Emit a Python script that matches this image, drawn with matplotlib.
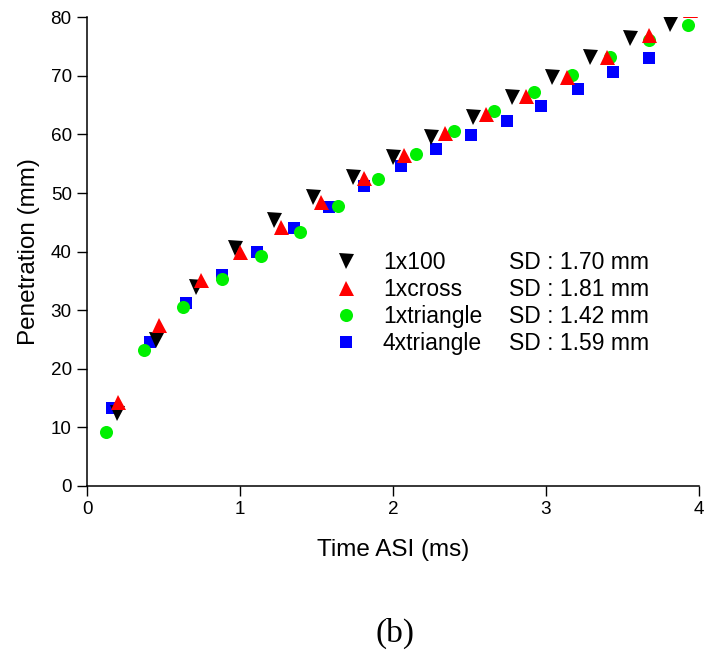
import matplotlib

matplotlib.use("Agg")

import matplotlib.pyplot as plt

plt.rcParams["font.family"] = ["Liberation Sans", "DejaVu Sans"]

# penetration vs time after impact, one series per configuration
t_1x100 = [0.196, 0.45, 0.71, 0.97, 1.22, 1.48, 1.74, 2.0, 2.25, 2.52, 2.78, 3.04, 3.29, 3.55, 3.81]
p_1x100 = [12.5, 25.0, 34.0, 40.6, 45.4, 49.3, 52.7, 56.1, 59.6, 63.0, 66.4, 69.8, 73.2, 76.5, 78.8]

t_1xcross = [0.2, 0.47, 0.745, 1.0, 1.27, 1.53, 1.81, 2.07, 2.34, 2.61, 2.87, 3.14, 3.40, 3.67, 3.94]
p_1xcross = [14.3, 27.5, 35.1, 40.0, 44.2, 48.5, 52.5, 56.5, 60.2, 63.5, 66.6, 69.8, 73.2, 77.0, 81.2]

t_1xtri = [0.124, 0.37, 0.63, 0.88, 1.14, 1.39, 1.64, 1.90, 2.15, 2.40, 2.66, 2.92, 3.17, 3.42, 3.67, 3.93]
p_1xtri = [9.3, 23.2, 30.6, 35.3, 39.2, 43.4, 47.8, 52.4, 56.6, 60.6, 64.0, 67.2, 70.1, 73.2, 76.1, 78.7]

t_4xtri = [0.163, 0.41, 0.65, 0.88, 1.11, 1.35, 1.58, 1.81, 2.05, 2.28, 2.51, 2.745, 2.97, 3.21, 3.44, 3.67]
p_4xtri = [13.3, 24.6, 31.3, 36.0, 40.0, 44.0, 47.7, 51.2, 54.6, 57.5, 59.9, 62.3, 64.8, 67.7, 70.7, 73.1]

names = ["1x100", "1xcross", "1xtriangle", "4xtriangle"]
sd_labels = ["SD : 1.70 mm", "SD : 1.81 mm", "SD : 1.42 mm", "SD : 1.59 mm"]

fig = plt.figure(figsize=(7.04, 6.54), dpi=100)
ax = fig.add_axes([0.1236, 0.2569, 0.8693, 0.7166])

# draw order: blue at the bottom, red on top
h_blue, = ax.plot(t_4xtri, p_4xtri, "s", color="#0000ff", ms=8.0, mew=0, zorder=2)
h_green, = ax.plot(t_1xtri, p_1xtri, "o", color="#00f000", ms=9.4, mew=0, zorder=3)
h_black, = ax.plot(t_1x100, p_1x100, "v", color="black", ms=10.8, mew=0, zorder=4)
h_red, = ax.plot(t_1xcross, p_1xcross, "^", color="#ff0000", ms=10.8, mew=0, zorder=5)

ax.set_xlim(0, 4)
ax.set_ylim(0, 80)
ax.set_xticks([0, 1, 2, 3, 4])
ax.set_yticks(range(0, 81, 10))
ax.spines[["top", "right"]].set_visible(False)
for s in ("left", "bottom"):
    ax.spines[s].set_linewidth(1.1)
ax.tick_params(direction="out", length=7, width=1.0, labelsize=13.6, pad=4)

ax.set_xlabel("Time ASI (ms)", fontsize=17.5, labelpad=15)
ax.set_ylabel("Penetration (mm)", fontsize=17.5, labelpad=8)

handles = [h_black, h_red, h_green, h_blue]
leg1 = ax.legend(handles, names, loc="upper left", bbox_to_anchor=(0.405, 0.501),
                 frameon=False, fontsize=16.5, handlelength=1.0, handletextpad=1.1,
                 labelspacing=0.17, borderpad=0, borderaxespad=0)
ax.add_artist(leg1)
blank = [plt.Line2D([], [], linestyle="none") for _ in sd_labels]
ax.legend(blank, sd_labels, loc="upper left", bbox_to_anchor=(0.690, 0.501),
          frameon=False, fontsize=16.5, handlelength=0, handletextpad=0,
          labelspacing=0.17, borderpad=0, borderaxespad=0)

fig.text(395 / 704, 1 - 633 / 654, "(b)", ha="center", va="center",
         fontsize=24, family=["Liberation Serif", "DejaVu Serif"])

fig.savefig("out.png", dpi=100)
